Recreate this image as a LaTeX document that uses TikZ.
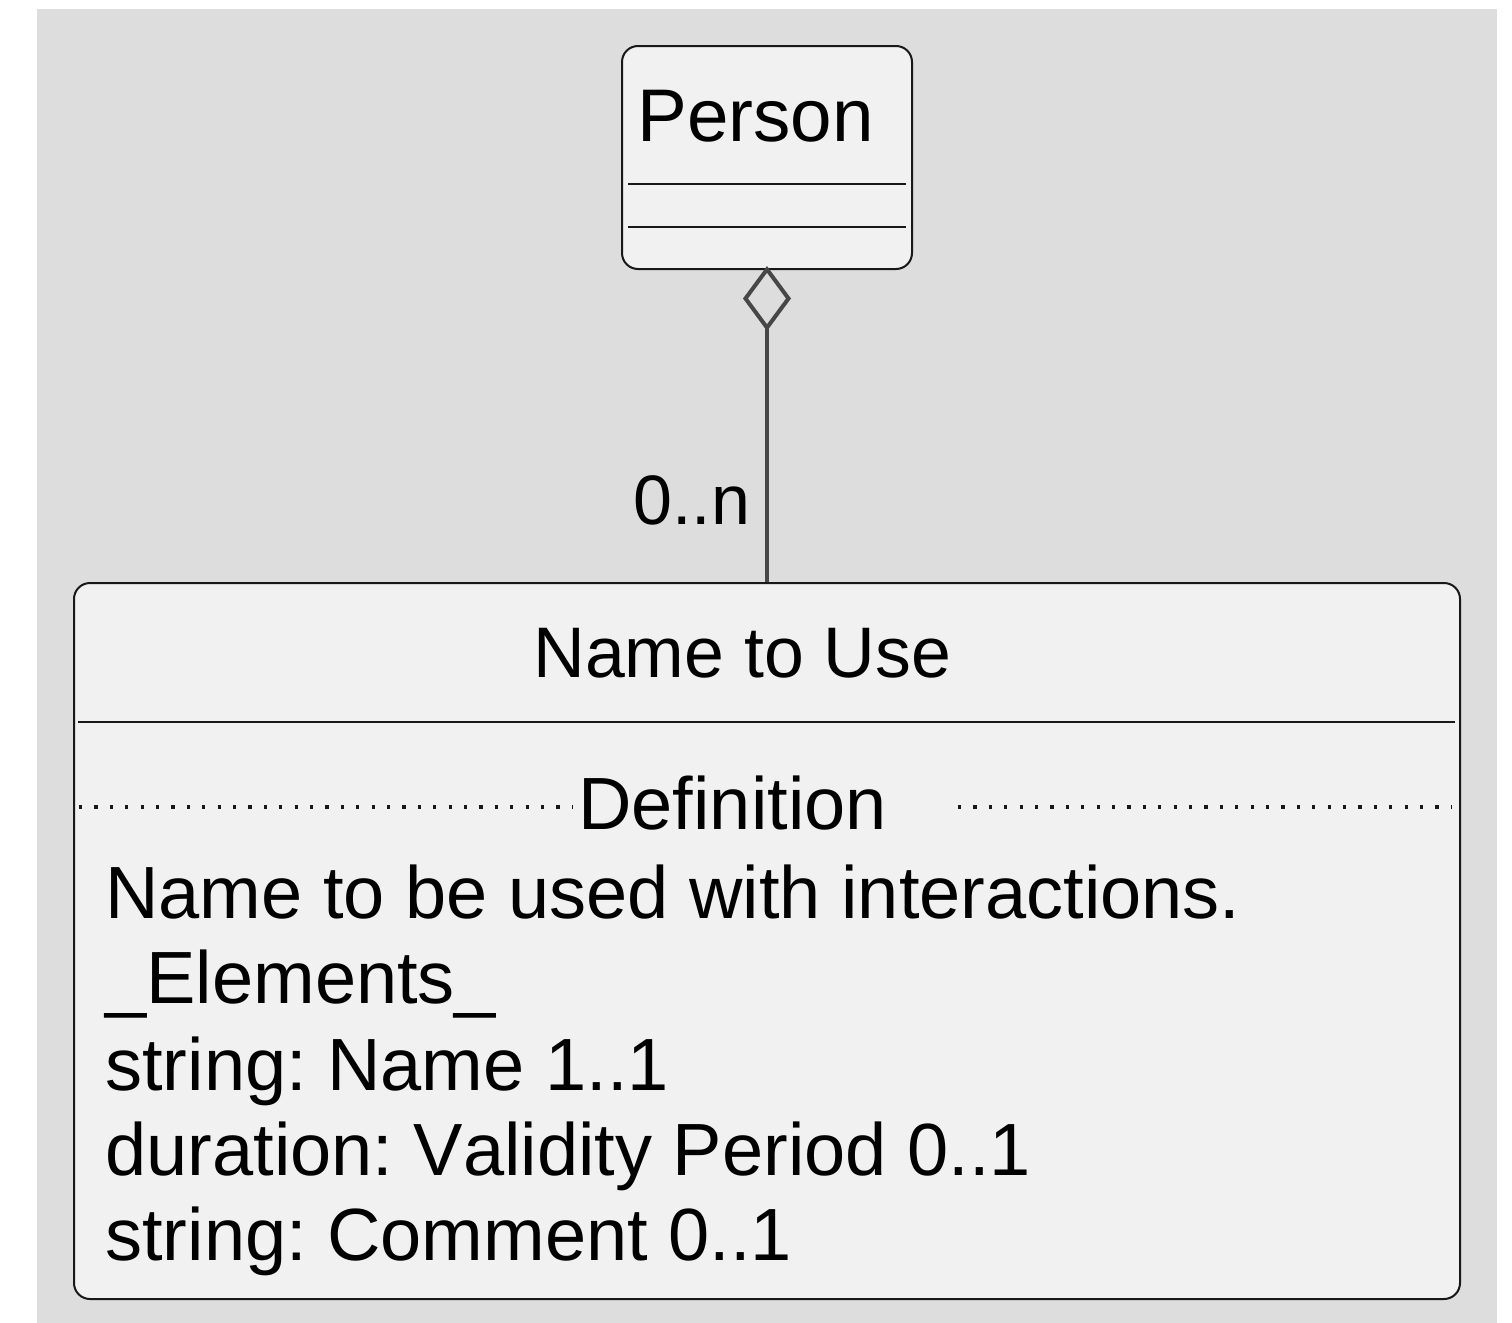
\documentclass[tikz,border=0pt]{standalone}
\usepackage{fontspec}
\setmainfont{Liberation Sans}[Kerning=Off]
\usetikzlibrary{arrows.meta}
\definecolor{bgcol}{HTML}{DDDDDD}
\definecolor{boxfill}{HTML}{F1F1F1}
\definecolor{boxline}{HTML}{181818}
\definecolor{conncol}{HTML}{474747}
\tikzset{
  classbox/.style={draw=boxline, fill=boxfill, line width=1pt, rounded corners=8pt, rectangle, inner sep=0pt},
  lbl/.style={anchor=base west, inner sep=0pt, font=\fontsize{37}{44}\selectfont, text=black},
  headlbl/.style={anchor=base west, inner sep=0pt, font=\fontsize{35.8}{43}\selectfont, text=black},
  personlblstyle/.style={anchor=base west, inner sep=0pt, font=\fontsize{37.3}{44}\selectfont, text=black},
  multlbl/.style={anchor=base west, inner sep=0pt, font=\fontsize{35}{42}\selectfont, text=black},
  sepline/.style={draw=boxline, line width=1pt},
  dotline/.style={draw=boxline, line width=1.6pt, dash pattern=on 1.6pt off 6.1pt},
  assoc/.style={draw=conncol, line width=2pt, shorten <=-2pt, {Diamond[open, length=32.5pt, width=24pt]}-}
}
\begin{document}
\frenchspacing
\begin{tikzpicture}[x=0.5pt,y=-0.5pt]
\useasboundingbox (0,0) rectangle (1512,1323);
\fill[bgcol] (37,9) rectangle (1497,1323);

% Person class
\node[classbox, minimum width=145pt, minimum height=111.5pt] (person) at (767,157.5) {};
\node[personlblstyle] (personlbl) at (637,141) {Person};
\draw[sepline] (628,184) -- (906,184);
\draw[sepline] (628,227) -- (906,227);

% Name to Use class
\node[classbox, minimum width=693pt, minimum height=358pt] (ntu) at (767,941) {};
\node[headlbl] (ntulbl) at (533,677) {Name to Use};
\draw[sepline] (78,722) -- (1455,722);
\node[lbl] (deflbl) at (578,829) {Definition};
\draw[dotline] (79,807) -- (573,807);
\draw[dotline] (958,807) -- (1452,807);
\node[lbl] (l1) at (105,918) {Name to be used with interactions.};
\node[lbl] (l2) at (105,1003) {\_Elements\_};
\node[lbl] (l3) at (105,1090) {string: Name 1..1};
\node[lbl] (l4) at (105,1175) {duration: Validity Period 0..1};
\node[lbl] (l5) at (105,1260) {string: Comment 0..1};

% connector
\draw[assoc] (person.south) -- (ntu.north);
\node[multlbl] (mult) at (633,524) {0..n};
\end{tikzpicture}
\end{document}
